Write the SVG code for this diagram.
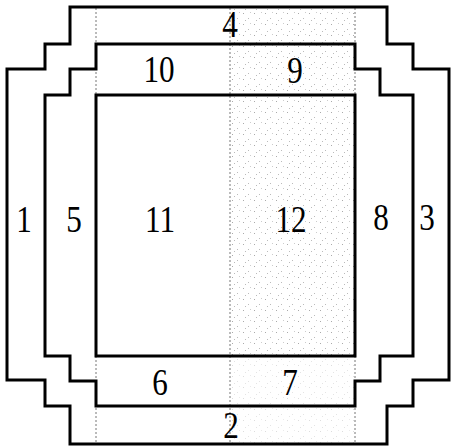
<svg xmlns="http://www.w3.org/2000/svg" width="451" height="447" viewBox="0 0 451 447">
<defs>
<pattern id="stip" width="11" height="11" patternUnits="userSpaceOnUse">
<rect x="1" y="2" width="1" height="1" fill="#aaa"/>
<rect x="6" y="7" width="1" height="1" fill="#bbb"/>
<rect x="8" y="1" width="1" height="1" fill="#ccc"/>
<rect x="3" y="9" width="1" height="1" fill="#bbb"/>
</pattern>
<style>
.frame{fill:none;stroke:#000;stroke-width:3;stroke-linejoin:miter}
.dot{fill:none;stroke:#777;stroke-width:1;stroke-dasharray:2 2}
.lbl{font-family:"Liberation Serif","Times New Roman",serif;font-size:38px;fill:#000;text-anchor:middle}
</style>
</defs>
<rect width="451" height="447" fill="#fff"/>
<g id="shading">
<rect x="230" y="7" width="125" height="349" fill="url(#stip)"/>
<rect x="230" y="356" width="125" height="88" fill="url(#stip)" opacity="0.4"/>
</g>
<g id="connectors">
<line class="dot" x1="230" y1="8" x2="230" y2="443"/>
<line class="dot" x1="96" y1="8" x2="96" y2="95"/>
<line class="dot" x1="96" y1="356" x2="96" y2="443"/>
<line class="dot" x1="355" y1="8" x2="355" y2="95"/>
<line class="dot" x1="355" y1="356" x2="355" y2="443"/>
</g>
<g id="outer">
<path class="frame" d="M70,7 H387 V44 H413 V69 H449 V380 H413 V406 H387 V444 H70 V406 H45 V380 H7 V69 H45 V44 H70 Z"/>
</g>
<g id="middle">
<path class="frame" d="M96,44 H355 V69 H380 V95 H413 V356 H380 V381 H355 V406 H96 V381 H70 V356 H45 V95 H70 V69 H96 Z"/>
</g>
<g id="inner">
<rect class="frame" x="96" y="95" width="259" height="261"/>
</g>
<g id="labels">
<text class="lbl" transform="matrix(0.82 0 0 1 230 37)">4</text>
<text class="lbl" transform="matrix(0.82 0 0 1 159 82)">10</text>
<text class="lbl" transform="matrix(0.82 0 0 1 295 83)">9</text>
<text class="lbl" transform="matrix(0.82 0 0 1 24 232)">1</text>
<text class="lbl" transform="matrix(0.82 0 0 1 74 232)">5</text>
<text class="lbl" transform="matrix(0.82 0 0 1 160 232)">11</text>
<text class="lbl" transform="matrix(0.82 0 0 1 291 232)">12</text>
<text class="lbl" transform="matrix(0.82 0 0 1 381 230)">8</text>
<text class="lbl" transform="matrix(0.82 0 0 1 427 230)">3</text>
<text class="lbl" transform="matrix(0.82 0 0 1 160 395)">6</text>
<text class="lbl" transform="matrix(0.82 0 0 1 290 395)">7</text>
<text class="lbl" transform="matrix(0.82 0 0 1 231 438)">2</text>
</g>
</svg>
